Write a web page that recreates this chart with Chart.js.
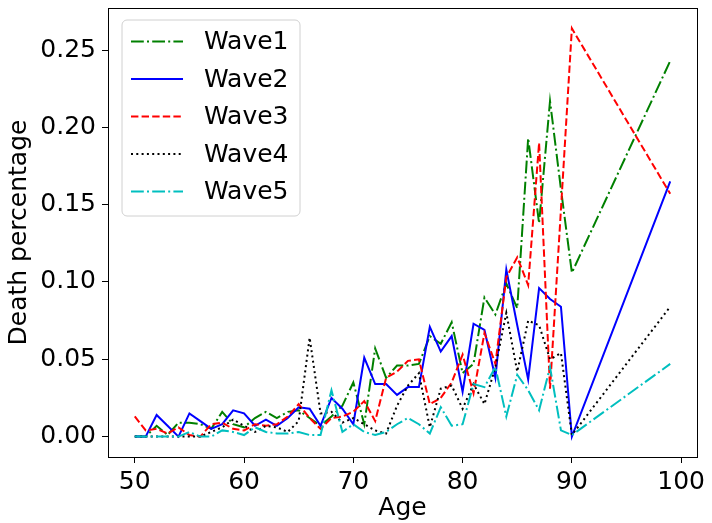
<!DOCTYPE html>
<html>
<head>
<meta charset="utf-8">
<script src="https://cdn.jsdelivr.net/npm/chart.js@4"></script>
<style>
  body { margin: 0; background: #fff; }
  #wrap { width: 712px; height: 523px; }
</style>
</head>
<body>
<div id="wrap"><canvas id="chart" width="712" height="523"></canvas></div>
<script>
// ages on the x axis (50..90 then 99)
const ages = [50, 51, 52, 53, 54, 55, 56, 57, 58, 59, 60, 61, 62, 63, 64, 65, 66, 67, 68, 69,
              70, 71, 72, 73, 74, 75, 76, 77, 78, 79, 80, 81, 82, 83, 84, 85, 86, 87, 88, 89, 90, 99];

const wave1 = [0, 0, 0.007, 0.001, 0.009, 0.009, 0.008, 0.005, 0.016, 0.008, 0.006, 0.012, 0.016, 0.012, 0.016, 0.017, 0.012, 0.007, 0.013, 0.020,
               0.035, 0.008, 0.057, 0.038, 0.046, 0.046, 0.047, 0.065, 0.060, 0.074, 0.041, 0.047, 0.090, 0.079, 0.099, 0.083, 0.193, 0.138, 0.217, 0.160, 0.106, 0.243];
const wave2 = [0, 0, 0.014, 0.007, 0, 0.015, 0.010, 0.005, 0.008, 0.017, 0.015, 0.007, 0.011, 0.007, 0.012, 0.019, 0.018, 0.007, 0.025, 0.018,
               0.008, 0.051, 0.034, 0.034, 0.027, 0.032, 0.032, 0.071, 0.055, 0.065, 0.029, 0.073, 0.069, 0.038, 0.108, 0.072, 0.037, 0.096, 0.089, 0.084, 0, 0.165];
const wave3 = [0.013, 0.004, 0.005, 0.002, 0.006, 0.001, 0, 0.008, 0.009, 0.005, 0.004, 0.008, 0.007, 0.008, 0.013, 0.021, 0.012, 0.005, 0.012, 0.013,
               0.016, 0.023, 0.010, 0.038, 0.042, 0.049, 0.050, 0.021, 0.025, 0.035, 0.053, 0.028, 0.067, 0.047, 0.103, 0.116, 0.098, 0.190, 0.031, 0.147, 0.264, 0.157];
const wave4 = [0, 0, 0, 0, 0, 0, 0, 0.003, 0.006, 0.011, 0.007, 0.003, 0.007, 0.006, 0.003, 0.010, 0.064, 0.015, 0.016, 0.009,
               0.012, 0.008, 0.004, 0.002, 0.020, 0.033, 0.041, 0.006, 0.031, 0.033, 0.018, 0.034, 0.021, 0.045, 0.080, 0.042, 0.075, 0.072, 0.050, 0.054, 0.001, 0.084];
const wave5 = [0, 0, 0, 0, 0, 0.003, 0, 0, 0.004, 0.003, 0.001, 0.006, 0.003, 0.002, 0.002, 0.003, 0.001, 0.001, 0.030, 0.003,
               0.008, 0.003, 0.001, 0.003, 0.008, 0.012, 0.008, 0.002, 0.019, 0.007, 0.008, 0.034, 0.032, 0.045, 0.013, 0.040, 0.030, 0.017, 0.045, 0.004, 0.001, 0.047];

const xTicks = [50, 60, 70, 80, 90, 100];
const yTicks = [0, 0.05, 0.10, 0.15, 0.20, 0.25];

const seriesNames = ['Wave1', 'Wave2', 'Wave3', 'Wave4', 'Wave5'];
const seriesValues = [wave1, wave2, wave3, wave4, wave5];
const seriesColors = ['#008000', '#0000ff', '#ff0000', '#000000', '#00bfbf'];
const seriesDash = [[12.8, 3.2, 2, 3.2], [], [7.4, 3.2], [2, 3.3], [12.8, 3.2, 2, 3.2]];

const FONT = 'DejaVu Sans';
const FS = 25;

const datasets = seriesNames.map((name, i) => ({
    label: name,
    data: ages.map((a, j) => ({ x: a, y: seriesValues[i][j] })),
    borderColor: seriesColors[i],
    borderWidth: 2,
    borderDash: seriesDash[i],
    borderCapStyle: 'butt',
    pointRadius: 0,
    fill: false,
    tension: 0,
    order: 5 - i
}));

// box around the axes + legend in the upper left corner
const framePlugin = {
    id: 'frame',
    afterDraw(chart) {
        const ctx = chart.ctx;
        const a = chart.chartArea;
        ctx.save();
        ctx.strokeStyle = '#000';
        ctx.lineWidth = 1;
        ctx.strokeRect(Math.round(a.left) + 0.5, Math.round(a.top) + 0.5,
                       Math.round(a.right - a.left), Math.round(a.bottom - a.top));

        // legend
        const bx = 122, by = 20, bw = 178, bh = 196, r = 5;
        ctx.beginPath();
        ctx.moveTo(bx + r, by);
        ctx.arcTo(bx + bw, by, bx + bw, by + bh, r);
        ctx.arcTo(bx + bw, by + bh, bx, by + bh, r);
        ctx.arcTo(bx, by + bh, bx, by, r);
        ctx.arcTo(bx, by, bx + bw, by, r);
        ctx.closePath();
        ctx.fillStyle = 'rgba(255,255,255,0.8)';
        ctx.fill();
        ctx.strokeStyle = '#d0d0d0';
        ctx.stroke();

        const rows = [41.5, 79, 116.5, 154, 191.5];
        seriesNames.forEach((name, i) => {
            const y = rows[i];
            ctx.beginPath();
            ctx.setLineDash(seriesDash[i]);
            ctx.lineCap = 'butt';
            ctx.strokeStyle = seriesColors[i];
            ctx.lineWidth = 2;
            ctx.moveTo(131, y);
            ctx.lineTo(183, y);
            ctx.stroke();
            ctx.setLineDash([]);
            ctx.fillStyle = '#000';
            ctx.font = FS + 'px "' + FONT + '"';
            ctx.textBaseline = 'middle';
            ctx.textAlign = 'left';
            ctx.fillText(name, 204, y + 1);
        });
        ctx.restore();
    }
};

new Chart(document.getElementById('chart'), {
    type: 'line',
    data: { datasets: datasets },
    options: {
        responsive: false,
        animation: false,
        events: [],
        layout: { padding: { left: 0, top: 8, right: 15, bottom: 0 } },
        plugins: {
            legend: { display: false },
            tooltip: { enabled: false }
        },
        scales: {
            x: {
                type: 'linear',
                min: 47.55,
                max: 101.45,
                afterBuildTicks(scale) { scale.ticks = xTicks.map(v => ({ value: v })); },
                afterFit(scale) {
                    scale.height = 66;
                    scale.paddingLeft = 0;
                    scale.paddingRight = 0;
                },
                grid: { drawOnChartArea: false, color: '#000', tickLength: 6, tickWidth: 1 },
                border: { color: '#000', width: 1 },
                ticks: {
                    color: '#000',
                    padding: 4,
                    maxRotation: 0,
                    font: { family: FONT, size: FS },
                    callback: v => String(v)
                },
                title: {
                    display: true,
                    text: 'Age',
                    color: '#000',
                    font: { family: FONT, size: FS },
                    padding: { top: 0, bottom: 0 }
                }
            },
            y: {
                type: 'linear',
                min: -0.0132,
                max: 0.2772,
                afterBuildTicks(scale) { scale.ticks = yTicks.map(v => ({ value: v })); },
                afterFit(scale) {
                    scale.width = 108;
                    scale.paddingTop = 0;
                    scale.paddingBottom = 0;
                },
                grid: { drawOnChartArea: false, color: '#000', tickLength: 6, tickWidth: 1 },
                border: { color: '#000', width: 1 },
                ticks: {
                    color: '#000',
                    padding: 6,
                    font: { family: FONT, size: FS },
                    callback: v => v.toFixed(2)
                },
                title: {
                    display: true,
                    text: 'Death percentage',
                    color: '#000',
                    font: { family: FONT, size: FS },
                    padding: { top: 4, bottom: 0 }
                }
            }
        }
    },
    plugins: [framePlugin]
});
</script>
</body>
</html>
